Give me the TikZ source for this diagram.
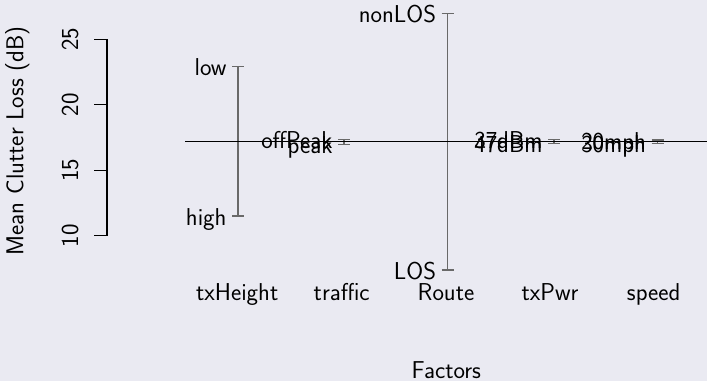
\documentclass[tikz,border=0pt]{standalone}
\usepackage{fontspec}
\definecolor{panel}{RGB}{234,234,242}
\definecolor{bargray}{RGB}{105,105,105}

% one factor: vertical range bar with end ticks and level labels
\newcommand\factorbar[6]{%
  \coordinate (#1-hi) at (#2,#3);
  \coordinate (#1-lo) at (#2,#4);
  \draw[bar] (#1-hi) -- (#1-lo);
  \draw[bar] ([xshift=-6pt]#1-hi) -- ([xshift=6pt]#1-hi);
  \draw[bar] ([xshift=-6pt]#1-lo) -- ([xshift=6pt]#1-lo);
  \node[lvl] (#1-hilab) at ([xshift=-11.5pt,yshift=-9pt]#1-hi) {#5};
  \node[lvl] (#1-lolab) at ([xshift=-11.5pt,yshift=-9pt]#1-lo) {#6};
}

\begin{document}
\begin{tikzpicture}[x=1pt,y=-1pt,
  every node/.style={inner sep=0pt,outer sep=0pt,
    font=\fontsize{24.4}{28}\selectfont\sffamily},
  bar/.style={draw=bargray,line width=1.2pt},
  axisline/.style={draw=black,line width=1.1pt},
  lvl/.style={anchor=base east},
  fac/.style={anchor=base},
  ticklab/.style={anchor=base,rotate=90}]

\fill[panel] (0,0) rectangle (707,381);
\useasboundingbox (0,0) rectangle (707,381);

% y axis with ticks and labels
\coordinate (ax-top) at (107,39.3);
\coordinate (ax-bot) at (107,235.7);
\draw[axisline] (ax-top) -- (ax-bot);
\foreach \v/\yy in {10/235.7,15/170.3,20/104.7,25/39.3}{
  \coordinate (t\v) at (107,\yy);
  \draw[axisline] (t\v) -- ([xshift=-12.7pt]t\v);
  \node[ticklab] (lab\v) at (78,\yy) {\v};
}
\node[ticklab] (ytitle) at (23.3,140.8) {Mean Clutter Loss (dB)};

% factor ranges
\factorbar{txh}{238}{66.7}{216}{low}{high}
\factorbar{trf}{344}{139.3}{144.3}{offPeak}{peak}
\factorbar{rte}{447.5}{13.3}{270}{nonLOS}{LOS}
\factorbar{pwr}{554}{139.3}{143.3}{37dBm}{47dBm}
\factorbar{spd}{657.5}{140}{143.3}{20mph}{30mph}

% grand mean
\coordinate (mean-l) at (185,141.7);
\coordinate (mean-r) at (707,141.7);
\draw[axisline] (mean-l) -- (mean-r);

% factor names
\node[fac] (f1) at (237.2,300.7) {txHeight};
\node[fac] (f2) at (341.7,300.7) {traffic};
\node[fac] (f3) at (446,300.7) {Route};
\node[fac] (f4) at (550,300.7) {txPwr};
\node[fac] (f5) at (653.7,300.7) {speed};
\node[fac] (xtitle) at (446.3,378.5) {Factors};
\end{tikzpicture}
\end{document}
